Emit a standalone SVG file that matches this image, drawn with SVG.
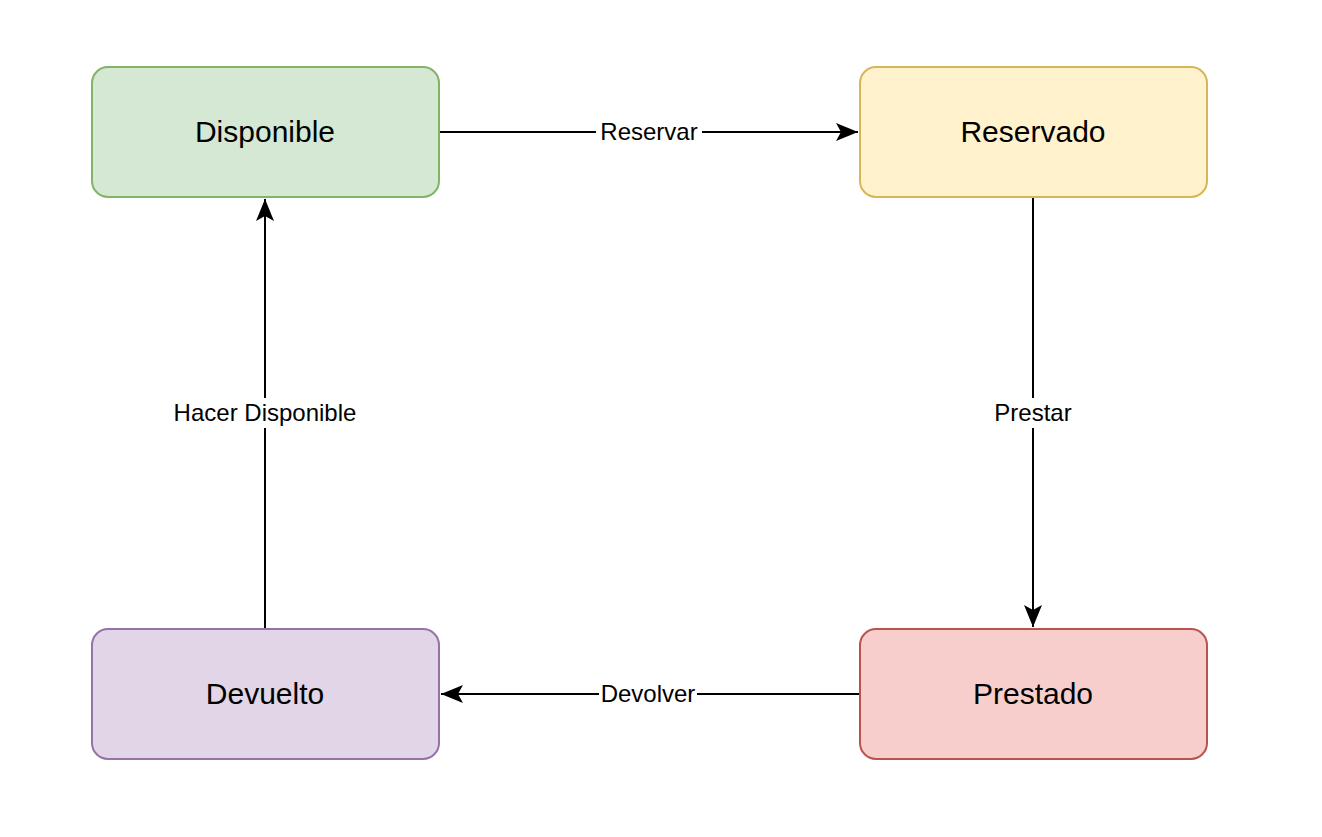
<svg xmlns="http://www.w3.org/2000/svg" width="1322" height="837" viewBox="0 0 1322 837">
<style>
.node{stroke-width:2}
.nt{font-family:"Liberation Sans",Arial,sans-serif;font-size:30px;fill:#000;text-anchor:middle}
.edge{stroke:#000;stroke-width:2;fill:none}
.lbl{font-family:"Liberation Sans",Arial,sans-serif;font-size:24px;fill:#000;text-anchor:middle}
.lbg{fill:#fff}
</style>
<defs>
<marker id="arr" markerUnits="userSpaceOnUse" markerWidth="26" markerHeight="24" viewBox="0 0 26 24" refX="24" refY="12" orient="auto">
<path d="M2,3 L24,12 L2,21 L7,12 Z" fill="#000"/>
</marker>
</defs>
<rect width="1322" height="837" fill="#fff"/>
<g id="connectors">
<g id="e-reservar">
<path class="edge" d="M439,132 L858,132" marker-end="url(#arr)"/>
<rect class="lbg" x="596" y="117" width="106" height="30"/>
<text class="lbl" x="649" y="140">Reservar</text>
</g>
<g id="e-prestar">
<path class="edge" d="M1033,197 L1033,627" marker-end="url(#arr)"/>
<rect class="lbg" x="990" y="398" width="86" height="30"/>
<text class="lbl" x="1033" y="421">Prestar</text>
</g>
<g id="e-devolver">
<path class="edge" d="M860,694 L441,694" marker-end="url(#arr)"/>
<rect class="lbg" x="599" y="679" width="98" height="30"/>
<text class="lbl" x="648" y="702">Devolver</text>
</g>
<g id="e-hacer">
<path class="edge" d="M265,629 L265,199" marker-end="url(#arr)"/>
<rect class="lbg" x="169" y="398" width="192" height="30"/>
<text class="lbl" x="265" y="421">Hacer Disponible</text>
</g>
</g>
<g id="disponible">
<rect class="node" x="92" y="67" width="347" height="130" rx="16" fill="#d5e8d4" stroke="#82b366"/>
<text class="nt" x="265" y="142">Disponible</text>
</g>
<g id="reservado">
<rect class="node" x="860" y="67" width="347" height="130" rx="16" fill="#fff2cc" stroke="#d6b656"/>
<text class="nt" x="1033" y="142">Reservado</text>
</g>
<g id="prestado">
<rect class="node" x="860" y="629" width="347" height="130" rx="16" fill="#f8cecc" stroke="#b85450"/>
<text class="nt" x="1033" y="704">Prestado</text>
</g>
<g id="devuelto">
<rect class="node" x="92" y="629" width="347" height="130" rx="16" fill="#e1d5e7" stroke="#9673a6"/>
<text class="nt" x="265" y="704">Devuelto</text>
</g>
</svg>
